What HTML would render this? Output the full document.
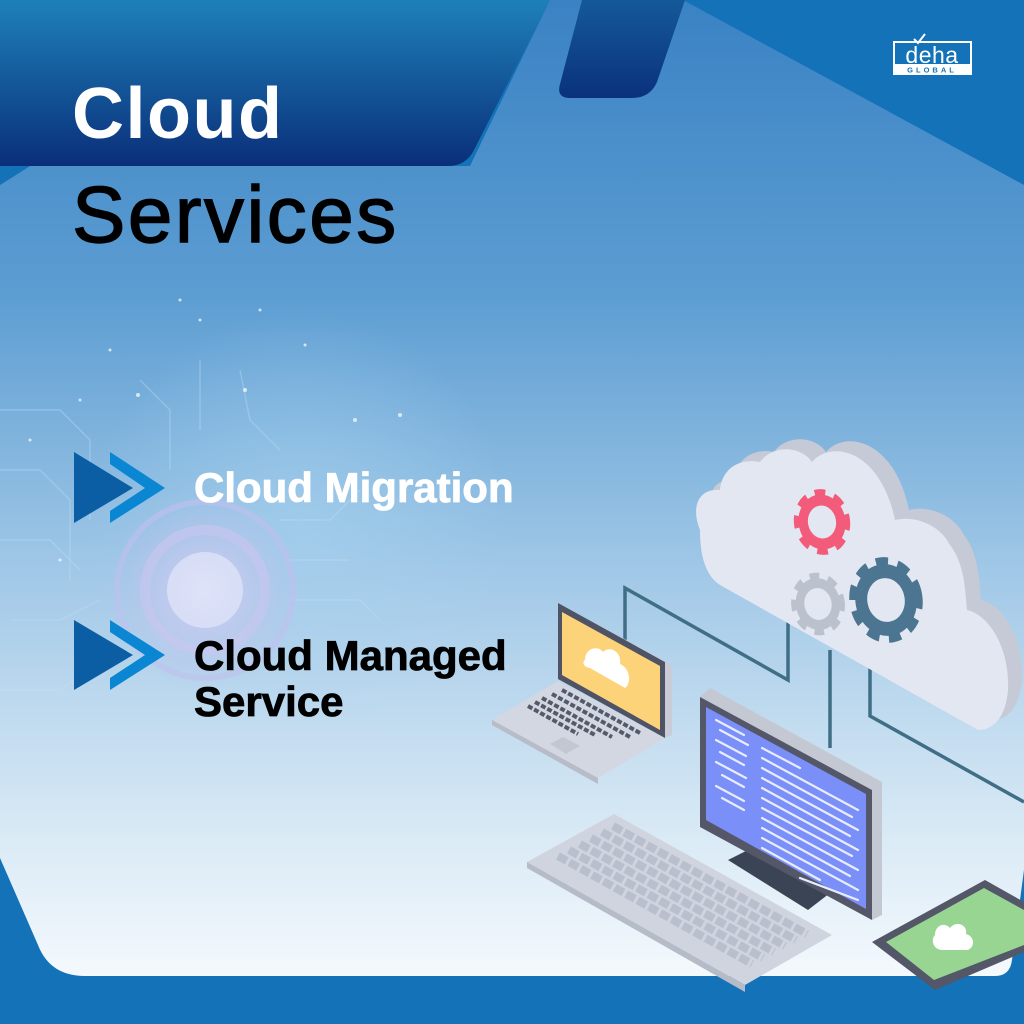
<!DOCTYPE html>
<html><head><meta charset="utf-8"><style>
html,body{margin:0;padding:0;}
body{width:1024px;height:1024px;overflow:hidden;background:#1472b9;font-family:"Liberation Sans",sans-serif;}
svg{display:block}
</style></head><body>
<svg width="1024" height="1024" viewBox="0 0 1024 1024" xmlns="http://www.w3.org/2000/svg">
<defs>
<linearGradient id="pg" x1="0" y1="0" x2="0" y2="1" gradientUnits="objectBoundingBox">
<stop offset="0" stop-color="#3a82c4"/>
<stop offset="0.3" stop-color="#5c9dd2"/>
<stop offset="0.6" stop-color="#a4cae8"/>
<stop offset="0.85" stop-color="#d8e9f5"/>
<stop offset="1" stop-color="#f4f9fd"/>
</linearGradient>
<linearGradient id="hg" x1="0" y1="0" x2="0" y2="1">
<stop offset="0" stop-color="#1e80b9"/>
<stop offset="1" stop-color="#0a2f7a"/>
</linearGradient>
<linearGradient id="hg2" x1="0" y1="0" x2="0" y2="1">
<stop offset="0" stop-color="#14599a"/>
<stop offset="1" stop-color="#0a317d"/>
</linearGradient>
<radialGradient id="glow" cx="0.5" cy="0.5" r="0.5">
<stop offset="0" stop-color="#e4e6fb" stop-opacity="0.95"/>
<stop offset="0.35" stop-color="#c9c9f0" stop-opacity="0.7"/>
<stop offset="1" stop-color="#b8bbe8" stop-opacity="0"/>
</radialGradient>
<radialGradient id="head" cx="0.5" cy="0.5" r="0.5">
<stop offset="0" stop-color="#a9d4f0" stop-opacity="0.55"/>
<stop offset="1" stop-color="#a9d4f0" stop-opacity="0"/>
</radialGradient>
</defs>

<rect width="1024" height="1024" fill="#1472b9"/>
<path d="M0,185 L30,166 L470,166 L550,0 L683,0 L1024,185 L1024,870 L1012,960 Q1010,976 995,976 L85,976 Q50,976 38,945 L0,858 Z" fill="url(#pg)"/>

<ellipse cx="300" cy="520" rx="210" ry="210" fill="url(#head)"/>
<g stroke="#bfe0f5" stroke-opacity="0.35" stroke-width="1.5" fill="none">
<path d="M0,410 L60,410 L90,440 L90,520"/>
<path d="M0,470 L40,470 L70,500 L70,580"/>
<path d="M0,540 L50,540 L80,570"/>
<path d="M10,620 L60,620 L100,600"/>
<path d="M140,380 L170,410 L170,470"/>
<path d="M200,360 L200,430"/>
<path d="M240,370 L250,420 L280,450"/>
<path d="M280,520 L330,520 L360,490"/>
<path d="M290,560 L350,560"/>
<path d="M290,600 L360,600 L380,620"/>
<path d="M0,690 L60,690 L100,660"/>
</g>
<g fill="#ffffff" fill-opacity="0.7">
<circle cx="180" cy="300" r="1.5"/><circle cx="200" cy="320" r="1.5"/><circle cx="110" cy="350" r="1.5"/>
<circle cx="245" cy="390" r="2"/><circle cx="138" cy="395" r="2"/><circle cx="80" cy="400" r="1.5"/>
<circle cx="30" cy="440" r="1.5"/><circle cx="355" cy="420" r="2"/><circle cx="400" cy="415" r="2"/>
<circle cx="260" cy="310" r="1.5"/><circle cx="305" cy="345" r="1.5"/><circle cx="60" cy="560" r="1.5"/>
</g>
<circle cx="205" cy="590" r="100" fill="url(#glow)"/>
<circle cx="205" cy="590" r="88" fill="none" stroke="#c0c0ee" stroke-opacity="0.6" stroke-width="6"/>
<circle cx="205" cy="590" r="60" fill="none" stroke="#c6c6ef" stroke-opacity="0.7" stroke-width="10"/>
<circle cx="205" cy="590" r="38" fill="#dde2f8" fill-opacity="0.8"/>

<path d="M0,0 L550,0 L474,150 Q466,166 448,166 L0,166 Z" fill="url(#hg)"/>
<path d="M0,166 L30,166 L0,185 Z" fill="#1472b9"/>
<path d="M582,0 L685,0 L657,82 Q650,98 632,98 L570,98 Q556,98 560,84 Z" fill="url(#hg2)"/>

<rect x="894" y="42" width="77" height="32" fill="none" stroke="#fff" stroke-width="2"/>
<rect x="894" y="64" width="77" height="10" fill="#fff"/>
<text x="932" y="63" font-family="Liberation Sans, sans-serif" font-size="23" fill="#fff" text-anchor="middle" letter-spacing="0.5">deha</text>
<path d="M914,39 L918,43 L925,34" stroke="#fff" stroke-width="2" fill="none"/>
<text x="932" y="72.5" font-family="Liberation Sans, sans-serif" font-weight="bold" font-size="7.5" fill="#1472b9" text-anchor="middle" letter-spacing="3">GLOBAL</text>

<text x="72" y="138" font-family="Liberation Sans, sans-serif" font-weight="bold" font-size="72" fill="#fff" letter-spacing="1.5">Cloud</text>
<text x="72" y="242" font-family="Liberation Sans, sans-serif" font-size="80" fill="#000" stroke="#000" stroke-width="1.4" letter-spacing="2.5">Services</text>

<g>
<path d="M74,452 L133,488 L74,523 Z" fill="#0b5ea3"/>
<path d="M110,452 L165,488 L110,523 L110,511 L145,488 L110,464 Z" fill="#0a86d2"/>
<path d="M74,620 L133,655 L74,690 Z" fill="#0b5ea3"/>
<path d="M110,620 L165,655 L110,690 L110,678 L145,655 L110,632 Z" fill="#0a86d2"/>
</g>
<text x="194" y="502" font-family="Liberation Sans, sans-serif" font-weight="bold" font-size="42" fill="#fff" stroke="#fff" stroke-width="0.8">Cloud Migration</text>
<text x="194" y="670" font-family="Liberation Sans, sans-serif" font-weight="bold" font-size="42" fill="#000" stroke="#000" stroke-width="0.8">Cloud Managed</text>
<text x="194" y="716" font-family="Liberation Sans, sans-serif" font-weight="bold" font-size="42" fill="#000" stroke="#000" stroke-width="0.8">Service</text>

<g stroke="#3f6e85" stroke-width="3.5" fill="none">
<path d="M625,640 L625,588 L788,680 L788,620"/>
<path d="M830,650 L830,748"/>
<path d="M870,668 L870,716 L1024,802"/>
</g>

<g transform="translate(14,-10)">
<path d="M700,530 C690,505 700,488 720,490 C722,468 740,458 760,462 C772,445 800,445 812,462 C830,440 880,448 895,520 C915,515 940,525 950,545 C965,565 965,590 967,610 C990,615 1010,650 1008,690 C1006,715 995,730 978,730 L720,585 C705,575 700,555 700,530 Z" fill="#c5cad6"/>
</g>
<path d="M700,530 C690,505 700,488 720,490 C722,468 740,458 760,462 C772,445 800,445 812,462 C830,440 880,448 895,520 C915,515 940,525 950,545 C965,565 965,590 967,610 C990,615 1010,650 1008,690 C1006,715 995,730 978,730 L720,585 C705,575 700,555 700,530 Z" fill="#e3e7f2"/>
<g transform="translate(822,522) rotate(-10) scale(0.85,1)">
<circle r="26" fill="none" stroke="#f25c7a" stroke-width="14" stroke-dasharray="11 9"/>
<circle r="22" fill="none" stroke="#f25c7a" stroke-width="11"/>
</g>
<g transform="translate(818,604) rotate(-10) scale(0.85,1)">
<circle r="25" fill="none" stroke="#bcc2cd" stroke-width="13" stroke-dasharray="10 9"/>
<circle r="21" fill="none" stroke="#bcc2cd" stroke-width="10"/>
</g>
<g transform="translate(886,600) rotate(-10) scale(0.85,1)">
<circle r="35" fill="none" stroke="#4b7590" stroke-width="16" stroke-dasharray="13 10"/>
<circle r="29" fill="none" stroke="#4b7590" stroke-width="14"/>
</g>

<!-- laptop -->
<path d="M492,720 L558,681 L665,738 L598,778 Z" fill="#d3d7e1"/>
<path d="M492,720 L598,778 L598,784 L492,725 Z" fill="#b7bcc8"/>
<path d="M558,603 L665,662 L665,738 L558,679 Z" fill="#4f5366"/>
<path d="M562,612 L660,666 L660,730 L562,675 Z" fill="#fdd37a"/>
<path d="M565,606 L672,665 L672,735 L665,738 L665,662 Z" fill="#c9ccd6"/>
<path d="M585,660 C585,648 598,645 603,652 C610,645 622,652 620,664 C630,668 632,683 625,688 L590,668 C583,667 582,662 585,660 Z" fill="#fff"/>
<g stroke="#555a6a" stroke-width="4" stroke-dasharray="5 2">
<path d="M528,706 L578,734"/><path d="M535,702 L595,735"/><path d="M542,698 L612,737"/><path d="M552,694 L630,737"/><path d="M562,690 L640,733"/>
</g>
<path d="M550,744 L563,737 L580,746 L566,754 Z" fill="#c3c7d2"/>

<!-- monitor -->
<path d="M710,688 L882,782 L882,915 L872,920 L872,790 L700,697 Z" fill="#c4c8d2"/>
<path d="M728,860 L748,850 L830,893 L808,910 Z" fill="#3a4455"/>
<path d="M700,697 L872,790 L872,920 L700,827 Z" fill="#535768" />
<path d="M706,707 L866,794 L866,909 L706,820 Z" fill="#7a8ff8"/>
<g stroke="#e8ecff" stroke-width="2.2" stroke-linecap="round">
<path d="M716,720 L744,735"/><path d="M720,730 L748,745"/><path d="M716,740 L746,756"/><path d="M720,752 L744,765"/><path d="M716,762 L746,778"/><path d="M722,775 L744,787"/><path d="M716,786 L744,801"/><path d="M722,798 L744,810"/>
<path d="M762,748 L800,768"/><path d="M762,758 L858,810"/><path d="M762,768 L852,817"/><path d="M762,778 L858,830"/><path d="M762,788 L850,836"/><path d="M762,798 L858,850"/><path d="M762,808 L852,856"/><path d="M762,818 L858,870"/><path d="M762,828 L850,876"/><path d="M762,838 L858,890"/><path d="M762,848 L820,880"/><path d="M800,878 L858,900"/>
</g>

<!-- keyboard -->
<path d="M527,862 L614,814 L832,935 L745,985 Z" fill="#d0d4df"/>
<path d="M527,862 L745,985 L745,992 L527,868 Z" fill="#b6bbc8"/>
<g stroke="#b9bfcc" stroke-width="8" stroke-dasharray="10 3">
<path d="M613,826 L807,934"/>
<path d="M602,832 L796,940"/>
<path d="M591,838 L785,946"/>
<path d="M580,844 L774,952"/>
<path d="M569,850 L763,958"/>
<path d="M558,856 L752,964"/>
</g>

<!-- tablet -->
<path d="M872,942 L985,880 L1024,902 L1024,952 L935,990 Z" fill="#535768"/>
<path d="M886,942 L984,888 L1024,910 L1024,945 L934,980 Z" fill="#98d593"/>
<path d="M935,935 C935,925 945,922 950,928 C956,920 968,925 966,934 C974,936 976,946 968,950 L942,950 C934,950 930,940 935,935 Z" fill="#fff"/>
</svg>
</body></html>
